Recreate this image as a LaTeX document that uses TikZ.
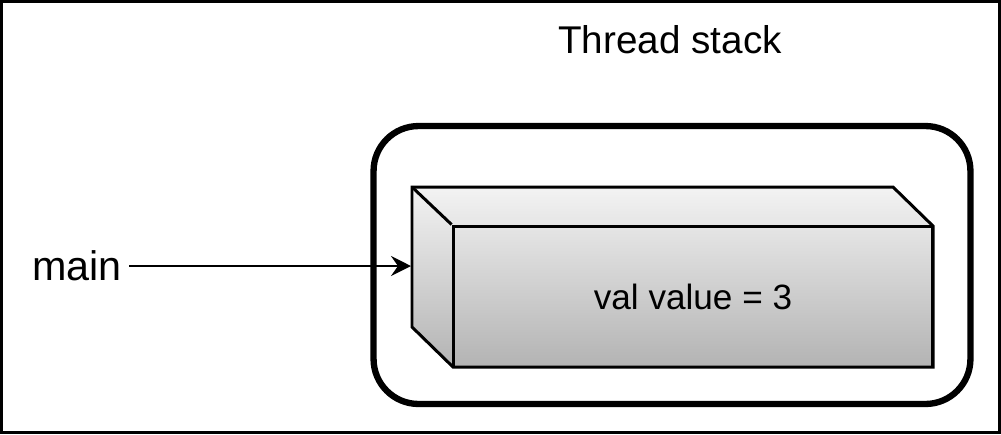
\documentclass[tikz,border=0pt]{standalone}
\usepackage{fontspec}
\setmainfont{Liberation Sans}
\usepackage{tikz}
\usetikzlibrary{arrows.meta, positioning, calc}
\definecolor{cubelight}{HTML}{F3F3F3}
\definecolor{cubedark}{HTML}{B3B3B3}

\begin{document}
\begin{tikzpicture}[
    x=0.02cm, y=-0.02cm,
    stackbox/.style={rectangle, rounded corners=0.9cm, draw=black, line width=3.6pt, minimum width=11.94cm, minimum height=5.56cm},
    facebox/.style={rectangle, draw=black, line width=1.7pt, minimum width=9.6cm, minimum height=2.82cm, font=\fontsize{20}{24}\selectfont},
    label/.style={inner sep=4pt},
    arr/.style={-{Stealth[length=0.4cm, width=0.4cm, inset=0.14cm]}, line width=1.3pt},
  ]
  \useasboundingbox (0,0) rectangle (1001,434);
  \draw[line width=1.3pt] (1.5,1.5) rectangle (999.5,432.5);

  % Container
  \node[stackbox] (stack) at (672,265) {};
  \node[label, font=\fontsize{22}{26}\selectfont] (title) at (670,40) {Thread stack};

  % Cube: shaded body, then front face with its text
  \shade[draw=black, line width=1.7pt, top color=cubelight, bottom color=cubedark]
    (412,187) -- (893,187) -- (933,226) -- (933,367) -- (453,367) -- (412,327) -- cycle;
  \node[facebox] (front) at (693,296.5) {val value = 3};
  \draw[line width=1.7pt] (front.north west) -- (412,187);

  % Pointer
  \node[label, font=\fontsize{23.5}{28}\selectfont] (main) at (77,266) {main};
  \coordinate (entry) at (411,266);
  \draw[arr] (main.east) -- (entry);
\end{tikzpicture}
\end{document}
